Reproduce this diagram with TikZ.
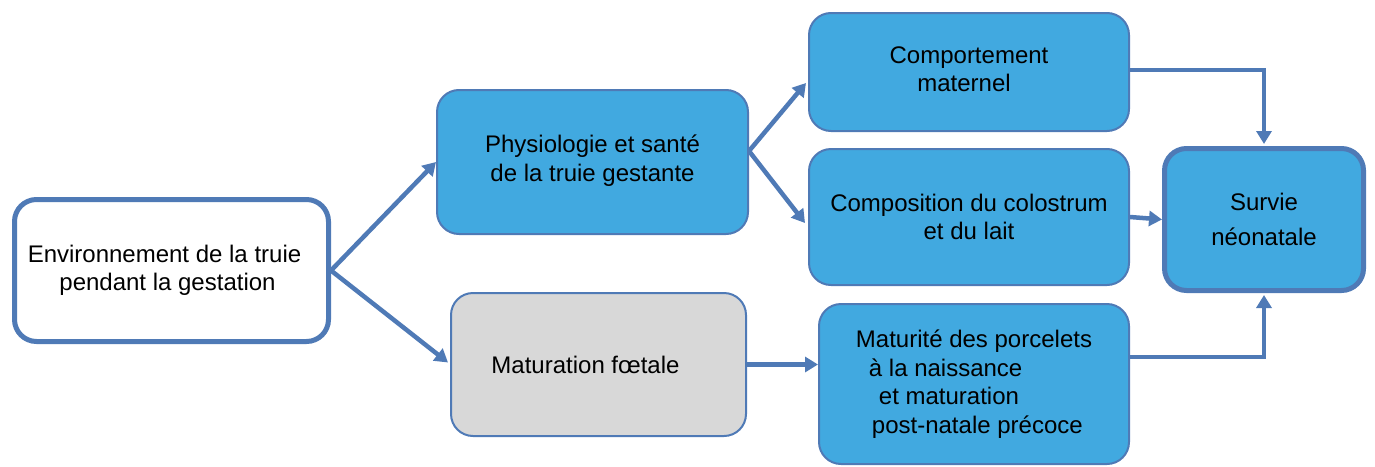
\documentclass[tikz,border=0pt]{standalone}
\usepackage{fontspec}
\setmainfont{Liberation Sans}
\usetikzlibrary{arrows.meta}
\definecolor{edgeblue}{RGB}{79,122,182}
\definecolor{fillblue}{RGB}{65,169,224}
\definecolor{fillgray}{RGB}{216,216,216}
\begin{document}
\begin{tikzpicture}[x=1pt,y=-1pt,
  box/.style={draw=edgeblue, line width=2pt, fill=fillblue, rounded corners=22pt,
    inner sep=0pt, align=center, font=\fontsize{24}{28.5}\selectfont},
  thickbox/.style={box, line width=5pt},
  arr/.style={draw=edgeblue, line width=4.5pt, -{Triangle[length=13pt,width=15pt]}}]
\useasboundingbox (0,0) rectangle (1375,466);
\node[thickbox, fill=white, minimum width=314pt, minimum height=142pt] (env) at (171.5,270.5)
  {Environnement de la truie\hspace*{14pt}\\pendant la gestation\hspace*{8pt}};
\node[box, minimum width=311pt, minimum height=144pt] (phys) at (592.5,162)
  {\raisebox{8pt}{Physiologie et santé}\\\raisebox{8pt}{de la truie gestante}};
\node[box, fill=fillgray, minimum width=295pt, minimum height=143pt] (mat) at (598.5,364.5)
  {Maturation fœtale\hspace*{26pt}};
\node[box, minimum width=320pt, minimum height=118pt] (comp) at (969,72)
  {\raisebox{6pt}{Comportement}\\\raisebox{6pt}{maternel}\hspace*{10pt}};
\node[box, minimum width=320pt, minimum height=136pt] (compo) at (969,217)
  {Composition du colostrum\\et du lait};
\node[box, minimum width=310pt, minimum height=160pt, align=left] (matu) at (974,384)
  {Maturité des porcelets\\\hspace*{13pt}à la naissance\\\hspace*{23pt}et maturation\\\hspace*{16pt}post-natale précoce};
\node[thickbox, minimum width=199pt, minimum height=142pt] (surv) at (1264,219.5)
  {Survie\\[6pt]néonatale};
\draw[arr] (env.east) -- (phys.west);
\draw[arr] (env.east) -- ([yshift=2pt,xshift=-2pt]mat.west);
\draw[arr] ([yshift=11pt]phys.east) -- ([yshift=-11pt,xshift=-2pt]comp.west);
\draw[arr] ([yshift=11pt]phys.east) -- ([yshift=-6pt,xshift=-3pt]compo.west);
\draw[arr] (mat.east) -- (mat.east -| matu.west);
\draw[arr] ([yshift=2pt]comp.east) -| ([yshift=2pt]surv.north);
\draw[arr] (compo.east) -- (surv.west);
\draw[arr] ([yshift=27pt]matu.east) -| ([yshift=-2pt]surv.south);
\end{tikzpicture}
\end{document}
